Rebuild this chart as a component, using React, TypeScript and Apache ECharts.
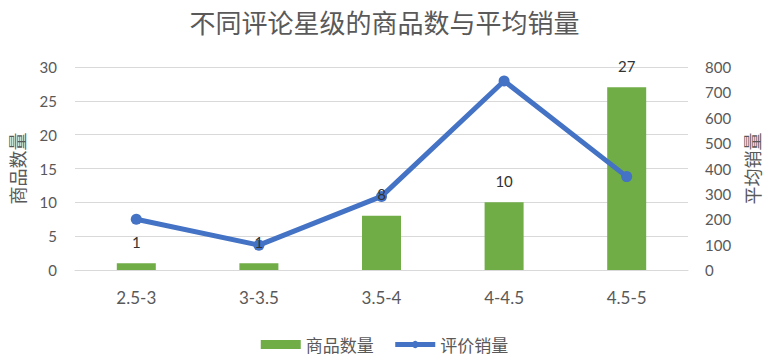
import React, { useEffect, useRef } from "react";
import * as echarts from "echarts";

const categories = ["2.5-3", "3-3.5", "3.5-4", "4-4.5", "4.5-5"];
const productCounts = [1, 1, 8, 10, 27];
const avgSales = [200, 98, 290, 745, 368];
const leftTicks = { min: 0, max: 30, interval: 5 };
const rightTicks = { min: 0, max: 800, interval: 100 };

const FONT = "Lato, 'Noto Sans CJK SC', sans-serif";
const CJK = "'Noto Sans CJK SC', sans-serif";

export default function App() {
  const ref = useRef<HTMLDivElement>(null);
  useEffect(() => {
    if (!ref.current) return;
    const chart = echarts.init(ref.current, undefined, { renderer: "svg" });
    chart.setOption({
      animation: false,
      backgroundColor: "#ffffff",
      title: {
        text: "不同评论星级的商品数与平均销量",
        left: "center",
        top: 3,
        textStyle: { fontSize: 26, fontWeight: "normal", color: "#595959", fontFamily: CJK },
      },
      legend: {
        bottom: 4,
        left: "center",
        itemWidth: 40,
        itemHeight: 9,
        itemGap: 19,
        textStyle: { fontSize: 17, color: "#595959", fontFamily: CJK },
        data: [
          { name: "商品数量", icon: "rect" },
          { name: "评价销量", lineStyle: { width: 5, color: "#4472C4" } },
        ],
      },
      grid: { left: 71, right: 79, top: 67, bottom: 92 },
      xAxis: {
        type: "category",
        data: categories,
        axisLine: { lineStyle: { color: "#d9d9d9" } },
        axisTick: { show: false },
        axisLabel: { fontSize: 17, color: "#595959", margin: 19, fontFamily: FONT },
      },
      yAxis: [
        {
          type: "value",
          min: leftTicks.min,
          max: leftTicks.max,
          interval: leftTicks.interval,
          name: "商品数量",
          nameLocation: "middle",
          nameRotate: 90,
          nameGap: 49,
          nameTextStyle: { fontSize: 18, color: "#595959", fontFamily: CJK },
          axisLine: { show: false },
          axisTick: { show: false },
          axisLabel: { fontSize: 15, color: "#595959", margin: 18, fontFamily: FONT },
          splitLine: { lineStyle: { color: "#d9d9d9", width: 1 } },
        },
        {
          type: "value",
          min: rightTicks.min,
          max: rightTicks.max,
          interval: rightTicks.interval,
          name: "平均销量",
          nameLocation: "middle",
          nameRotate: 90,
          nameGap: 55,
          nameTextStyle: { fontSize: 18, color: "#595959", fontFamily: CJK },
          axisLine: { show: false },
          axisTick: { show: false },
          axisLabel: { fontSize: 15, color: "#595959", margin: 17, fontFamily: FONT },
          splitLine: { show: false },
        },
      ],
      series: [
        {
          name: "商品数量",
          type: "bar",
          data: productCounts,
          barWidth: 39,
          itemStyle: { color: "#70AD47" },
        },
        {
          name: "评价销量",
          type: "line",
          yAxisIndex: 1,
          data: avgSales,
          symbol: "circle",
          symbolSize: 11,
          lineStyle: { color: "#4472C4", width: 5 },
          itemStyle: { color: "#4472C4" },
        },
        {
          name: "labels",
          type: "scatter",
          data: productCounts,
          symbolSize: 0,
          z: 10,
          silent: true,
          itemStyle: { color: "#404040", opacity: 1 },
          label: {
            show: true,
            position: "top",
            distance: 14,
            fontSize: 15,
            color: "#333333",
            fontFamily: FONT,
          },
        },
      ],
    });
    return () => chart.dispose();
  }, []);
  return (
    <div
      ref={ref}
      style={{ position: "fixed", left: 0, top: 0, width: 769, height: 362 }}
    />
  );
}
